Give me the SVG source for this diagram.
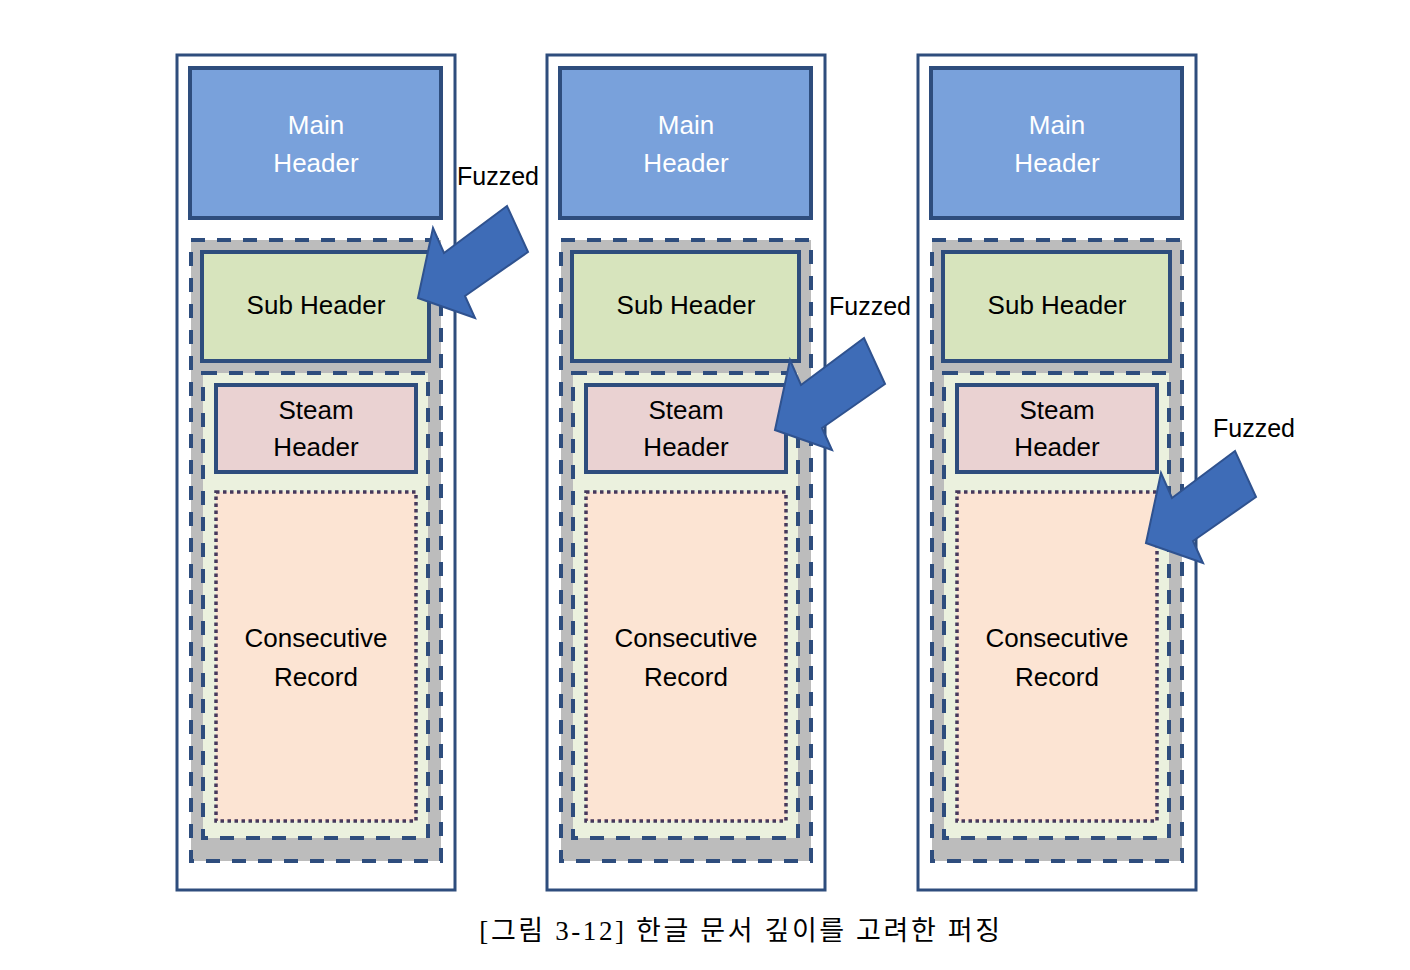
<svg xmlns="http://www.w3.org/2000/svg" width="1410" height="970" viewBox="0 0 1410 970">
<style>
.outer{fill:#ffffff;stroke:#2e4d7d;stroke-width:3}
.main{fill:#79a1db;stroke:#2e4d7d;stroke-width:4}
.gray{fill:#bcbcbc;stroke:#2e4d7d;stroke-width:4;stroke-dasharray:14 12}
.sub{fill:#d7e4bd;stroke:#2e4d7d;stroke-width:4}
.inner{fill:#ebf1de;stroke:#2e4d7d;stroke-width:4;stroke-dasharray:14 12}
.steam{fill:#ead2d2;stroke:#2e4d7d;stroke-width:4}
.rec{fill:#fce4d3;stroke:#46395c;stroke-width:3.5;stroke-dasharray:3.5 3.5}
.t{font-family:"Liberation Sans",Arial,sans-serif;font-size:26px;text-anchor:middle;fill:#000}
.tw{fill:#ffffff}
.fz{font-family:"Liberation Sans",Arial,sans-serif;font-size:25px;fill:#000}
.arrow{fill:#3e6cb7;stroke:#2f528f;stroke-width:2;stroke-linejoin:miter}
.cap{font-family:"Liberation Serif","Noto Sans CJK KR",serif;font-size:27px;letter-spacing:2.6px;text-anchor:middle;fill:#000}
</style>
<defs>
<g id="col">
<rect class="outer" x="177" y="55" width="278" height="835"/>
<rect class="main" x="190" y="68" width="251" height="150"/>
<rect class="gray" x="191" y="240" width="250" height="621"/>
<rect class="sub" x="202" y="252" width="227" height="109"/>
<rect class="inner" x="203" y="373" width="225" height="465"/>
<rect class="steam" x="216" y="385" width="200" height="87"/>
<rect class="rec" x="216" y="492" width="200" height="329"/>
</g>
<polygon id="arr" points="0,0 15,-70 26,-45 89,-92 110,-46 47,-2 57,20"/>
</defs>
<g id="column1">
<use href="#col"/>
<g id="main1"><text class="t tw" x="316" y="134">Main</text><text class="t tw" x="316" y="172">Header</text></g>
<g id="sub1"><text class="t" x="316" y="314">Sub Header</text></g>
<g id="steam1"><text class="t" x="316" y="419">Steam</text><text class="t" x="316" y="456">Header</text></g>
<g id="rec1"><text class="t" x="316" y="647">Consecutive</text><text class="t" x="316" y="686">Record</text></g>
</g>
<g id="column2" transform="translate(370,0)">
<use href="#col"/>
<g id="main2"><text class="t tw" x="316" y="134">Main</text><text class="t tw" x="316" y="172">Header</text></g>
<g id="sub2"><text class="t" x="316" y="314">Sub Header</text></g>
<g id="steam2"><text class="t" x="316" y="419">Steam</text><text class="t" x="316" y="456">Header</text></g>
<g id="rec2"><text class="t" x="316" y="647">Consecutive</text><text class="t" x="316" y="686">Record</text></g>
</g>
<g id="column3" transform="translate(741,0)">
<use href="#col"/>
<g id="main3"><text class="t tw" x="316" y="134">Main</text><text class="t tw" x="316" y="172">Header</text></g>
<g id="sub3"><text class="t" x="316" y="314">Sub Header</text></g>
<g id="steam3"><text class="t" x="316" y="419">Steam</text><text class="t" x="316" y="456">Header</text></g>
<g id="rec3"><text class="t" x="316" y="647">Consecutive</text><text class="t" x="316" y="686">Record</text></g>
</g>
<g id="connectors">
<use href="#arr" class="arrow" transform="translate(418,298)"/>
<use href="#arr" class="arrow" transform="translate(775,430)"/>
<use href="#arr" class="arrow" transform="translate(1146,543)"/>
</g>
<g id="labels">
<text class="fz" x="457" y="185">Fuzzed</text>
<text class="fz" x="829" y="315">Fuzzed</text>
<text class="fz" x="1213" y="437">Fuzzed</text>
</g>
<text class="cap" x="741" y="940">[그림 3-12] 한글 문서 깊이를 고려한 퍼징</text>
</svg>
